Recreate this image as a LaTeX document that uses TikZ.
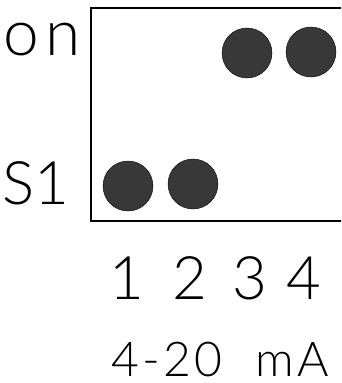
\documentclass[tikz,border=0pt]{standalone}
\usepackage{fontspec}
\setmainfont{Lato Light}
\usetikzlibrary{calc}

\tikzset{
 dipdot/.style={draw=black, thin, fill=black!78},
 lbl/.style={inner sep=0, font=\fontsize{60}{60}\selectfont},
 sub/.style={inner sep=0, font=\fontsize{48}{48}\selectfont\addfontfeatures{LetterSpace=7}}
}

\begin{document}
\begin{tikzpicture}[x=1pt, y=-1pt]
\useasboundingbox (0,0) rectangle (341,383);
\begin{scope}
\clip (0,0) rectangle (341,383);
\draw[line width=2.2pt] (345,8) -- (91,8) -- (91,221) -- (345,221);
\end{scope}
\node[lbl, font=\fontsize{64}{64}\selectfont\addfontfeatures{LetterSpace=10}] (on) at (42,40) {on};
\node[lbl] (s1) at (36,183) {S1};
\foreach \n/\x/\y in {1/128/186, 2/193/184, 3/247/53, 4/311/52} {
 \filldraw[dipdot] (\x,\y) circle (25);
}
\foreach \n/\x in {1/127, 2/190, 3/250, 4/304} {
 \node[lbl] (d\n) at (\x,278) {\n};
}
\node[sub] (ma) at (220,360) {4-20\ \ mA};
\end{tikzpicture}
\end{document}
